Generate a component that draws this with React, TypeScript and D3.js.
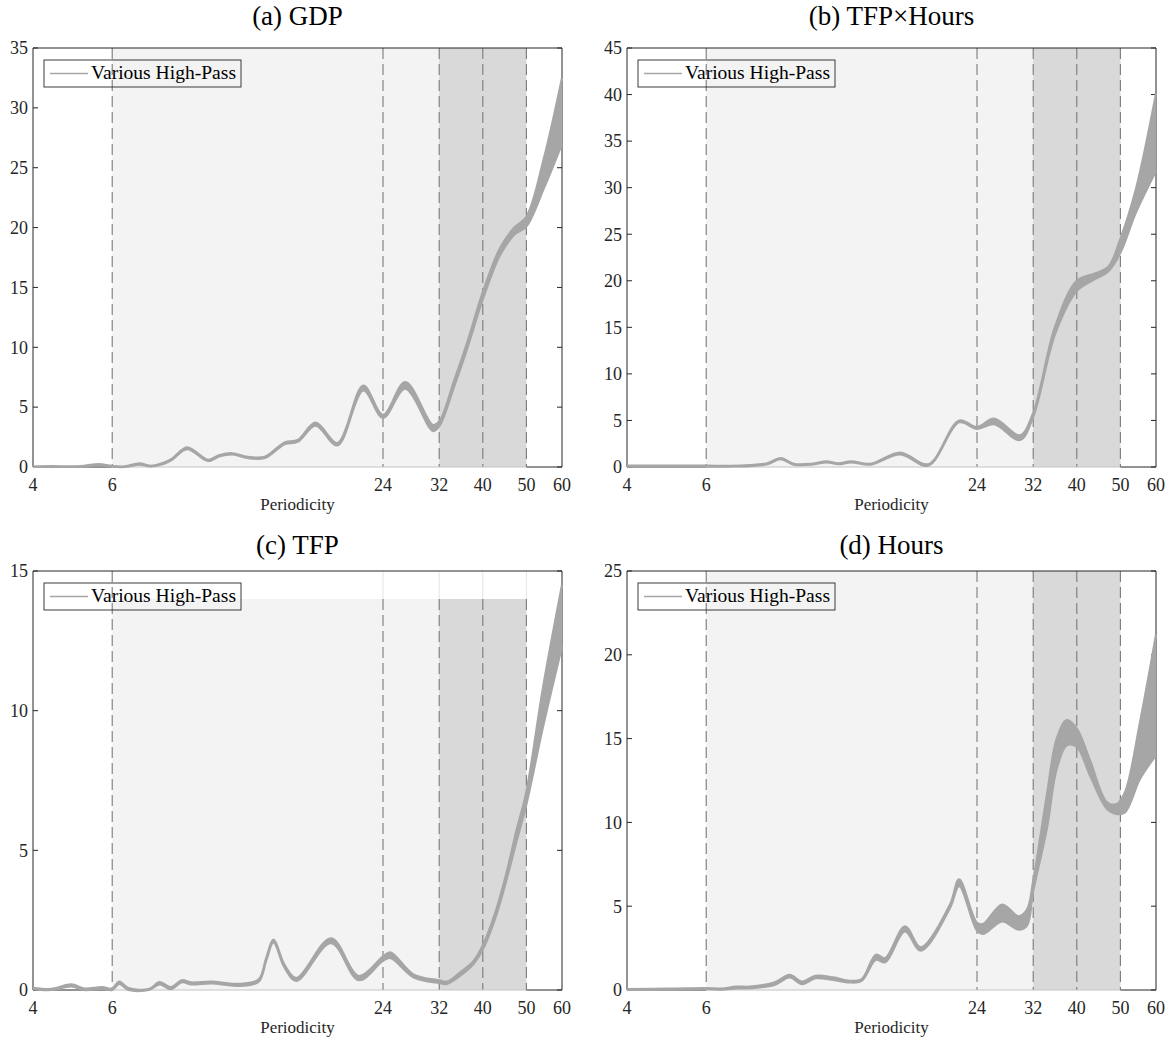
import { useEffect, useRef } from 'react';
import * as d3 from 'd3';

// periodicity grid and band (low / high over the various high-pass filters) per panel
const gdpPeriod = [4, 4.4, 4.8, 5.2, 5.6, 6, 6.4, 6.9, 7.3, 7.8, 8.15, 8.8, 9.8, 10.4, 11.1, 12, 13.1, 14.5, 15.5, 17, 19, 21.7, 24, 26.9, 31, 32, 34.6, 37, 40, 43.7, 47, 50, 54.7, 60];
const gdpLow = [0, 0.02, 0, 0.03, 0.15, 0.02, 0, 0.2, 0.05, 0.25, 0.6, 1.5, 0.5, 0.9, 1.05, 0.75, 0.75, 1.9, 2.1, 3.45, 1.8, 6.4, 4.1, 6.55, 3.0, 3.4, 6.8, 10.0, 14.0, 17.7, 19.4, 20.1, 23.3, 27.0];
const gdpHigh = [0.05, 0.08, 0.05, 0.1, 0.25, 0.08, 0.05, 0.3, 0.1, 0.35, 0.7, 1.65, 0.6, 1.0, 1.15, 0.85, 0.85, 2.05, 2.25, 3.7, 2.0, 6.8, 4.35, 7.1, 3.5, 3.8, 7.3, 10.5, 14.6, 18.3, 20.0, 20.9, 25.8, 32.5];

const tfpHoursPeriod = [4, 5, 6, 6.8, 7.5, 8.2, 8.79, 9.39, 10.3, 11.1, 11.8, 12.6, 13.9, 16.2, 18.7, 21.9, 24, 26.2, 29.9, 32, 35.8, 40, 44, 47, 50, 54.1, 60];
const tfpHoursLow = [0.05, 0.05, 0.05, 0.05, 0.1, 0.3, 0.85, 0.25, 0.25, 0.5, 0.3, 0.5, 0.25, 1.35, 0.15, 4.8, 4.1, 4.6, 2.9, 5.4, 14.3, 18.9, 20.2, 21.0, 23.0, 27.3, 31.8];
const tfpHoursHigh = [0.15, 0.15, 0.15, 0.12, 0.2, 0.4, 0.95, 0.35, 0.35, 0.6, 0.4, 0.6, 0.35, 1.55, 0.3, 5.0, 4.3, 5.2, 3.4, 5.8, 15.1, 20.0, 20.8, 21.5, 24.5, 29.8, 40.1];

const tfpPeriod = [4, 4.4, 4.87, 5.2, 5.7, 6, 6.22, 6.52, 7.23, 7.65, 8.1, 8.57, 9.0, 9.96, 11.6, 12.7, 13.2, 13.7, 14.5, 15.4, 18.4, 21.2, 24, 24.9, 28.1, 32, 33.3, 35.9, 38, 40, 42.5, 45, 47.5, 50, 54.4, 60];
const tfpLow = [0.03, 0, 0.13, 0, 0.05, 0, 0.22, 0, 0, 0.2, 0.03, 0.28, 0.2, 0.24, 0.15, 0.3, 1.05, 1.7, 0.8, 0.33, 1.68, 0.35, 1.05, 1.15, 0.45, 0.25, 0.22, 0.55, 0.9, 1.45, 2.5, 3.85, 5.3, 6.65, 9.4, 12.3];
const tfpHigh = [0.08, 0.04, 0.2, 0.05, 0.1, 0.05, 0.3, 0.07, 0.03, 0.28, 0.1, 0.35, 0.27, 0.3, 0.22, 0.38, 1.15, 1.8, 0.9, 0.43, 1.85, 0.5, 1.2, 1.35, 0.55, 0.35, 0.3, 0.68, 1.0, 1.6, 2.7, 4.1, 5.7, 7.1, 10.8, 14.5];

const hoursPeriod = [4, 5, 6, 6.5, 7, 7.5, 8.5, 9.2, 9.8, 10.5, 11.5, 12.5, 13.3, 14.3, 15.0, 16.6, 18.0, 20.9, 21.9, 24, 24.8, 27.3, 29.7, 31, 32, 34.3, 36.1, 38.0, 40, 42.8, 46.7, 49.1, 51.2, 55.3, 60];
const hoursLow = [0, 0.02, 0.05, 0.02, 0.1, 0.1, 0.3, 0.75, 0.35, 0.7, 0.6, 0.45, 0.55, 1.8, 1.65, 3.5, 2.35, 4.9, 6.2, 3.55, 3.35, 4.1, 3.6, 3.85, 5.9, 9.6, 13.2, 14.6, 14.5, 12.8, 10.8, 10.5, 10.6, 12.6, 14.0];
const hoursHigh = [0.05, 0.08, 0.12, 0.08, 0.2, 0.2, 0.45, 0.9, 0.5, 0.85, 0.75, 0.55, 0.65, 2.1, 1.9, 3.8, 2.55, 5.1, 6.6, 4.0, 3.95, 5.1, 4.4, 4.8, 6.5, 11.6, 15.0, 16.1, 15.6, 13.7, 11.2, 11.1, 11.8, 16.0, 21.2];

const xTicks = [4, 6, 24, 32, 40, 50, 60];
const cutoffs = [6, 24, 32, 40, 50];
const legendLabel = 'Various High-Pass';
const xLabel = 'Periodicity';

const FONT = '"Liberation Serif", "Times New Roman", serif';
const BAND = '#a6a6a6';

type PanelDef = {
  title: string; left: number; top: number; titleY: number; yMax: number;
  period: number[]; low: number[]; high: number[]; shadeTop?: number;
};

const panels: PanelDef[] = [
  { title: '(a) GDP', left: 33, top: 48, titleY: 25, yMax: 35, period: gdpPeriod, low: gdpLow, high: gdpHigh },
  { title: '(b) TFP\u00d7Hours', left: 627, top: 48, titleY: 25, yMax: 45, period: tfpHoursPeriod, low: tfpHoursLow, high: tfpHoursHigh },
  { title: '(c) TFP', left: 33, top: 571, titleY: 554, yMax: 15, period: tfpPeriod, low: tfpLow, high: tfpHigh, shadeTop: 14 },
  { title: '(d) Hours', left: 627, top: 571, titleY: 554, yMax: 25, period: hoursPeriod, low: hoursLow, high: hoursHigh },
];

export default function App() {
  const ref = useRef<SVGSVGElement>(null);

  useEffect(() => {
    const svg = d3.select(ref.current);
    svg.selectAll('*').remove();
    const pw = 529, ph = 419;

    panels.forEach(p => {
      const x = d3.scaleLog().domain([4, 60]).range([p.left, p.left + pw]);
      const y = d3.scaleLinear().domain([0, p.yMax]).range([p.top + ph, p.top]);
      const g = svg.append('g');
      const x0 = x(4), x1 = x(60), yb = y(0), yt = y(p.yMax);
      const shadeTop = p.shadeTop ?? p.yMax;

      // title
      g.append('text').attr('x', (x0 + x1) / 2).attr('y', p.titleY)
        .attr('text-anchor', 'middle').attr('font-family', FONT).attr('font-size', 27)
        .attr('fill', '#000').text(p.title);

      // shaded frequency bands
      g.append('rect').attr('x', x(6)).attr('width', x(50) - x(6))
        .attr('y', y(shadeTop)).attr('height', yb - y(shadeTop)).attr('fill', '#f3f3f3');
      g.append('rect').attr('x', x(32)).attr('width', x(50) - x(32))
        .attr('y', y(shadeTop)).attr('height', yb - y(shadeTop)).attr('fill', '#d9d9d9');

      // cut-off lines
      cutoffs.forEach(c => {
        const top = c === 6 ? yt : y(shadeTop);
        if (top > yt) {
          g.append('line').attr('x1', x(c)).attr('x2', x(c)).attr('y1', yt).attr('y2', top)
            .attr('stroke', '#e4e4e4').attr('stroke-width', 1);
        }
        g.append('line').attr('x1', x(c)).attr('x2', x(c)).attr('y1', top).attr('y2', yb)
          .attr('stroke', '#7a7a7a').attr('stroke-width', 1.1).attr('stroke-dasharray', '11,5');
      });

      // box
      const ax = g.append('g').attr('stroke', '#262626').attr('stroke-width', 1).attr('fill', 'none');
      ax.append('path').attr('d', `M${x0},${yb}V${yt}H${x1}V${yb}`);
      ax.append('line').attr('x1', x0).attr('x2', x(6)).attr('y1', yb).attr('y2', yb);
      ax.append('line').attr('x1', x(50)).attr('x2', x1).attr('y1', yb).attr('y2', yb);
      g.append('line').attr('x1', x(6)).attr('x2', x(50)).attr('y1', yb).attr('y2', yb)
        .attr('stroke', '#c4c4c4').attr('stroke-width', 1);

      const yTicks = d3.range(0, p.yMax + 0.001, 5);
      yTicks.forEach(t => {
        ax.append('line').attr('x1', x0).attr('x2', x0 + 5).attr('y1', y(t)).attr('y2', y(t));
        ax.append('line').attr('x1', x1 - 5).attr('x2', x1).attr('y1', y(t)).attr('y2', y(t));
        g.append('text').attr('x', x0 - 5).attr('y', y(t)).attr('dy', '0.35em')
          .attr('text-anchor', 'end').attr('font-family', FONT).attr('font-size', 18)
          .attr('fill', '#262626').text(t);
      });
      xTicks.forEach(t => {
        g.append('text').attr('x', x(t)).attr('y', yb + 24)
          .attr('text-anchor', 'middle').attr('font-family', FONT).attr('font-size', 18)
          .attr('fill', '#262626').text(t);
      });
      g.append('text').attr('x', (x0 + x1) / 2).attr('y', yb + 43)
        .attr('text-anchor', 'middle').attr('font-family', FONT).attr('font-size', 17)
        .attr('fill', '#262626').text(xLabel);

      // band of spectra
      const data = p.period.map((per, i) => ({ per, lo: p.low[i], hi: p.high[i] }));
      type D = typeof data[number];
      const area = d3.area<D>().x(d => x(d.per)).y0(d => y(d.lo)).y1(d => y(d.hi)).curve(d3.curveCatmullRom);
      const lineLo = d3.line<D>().x(d => x(d.per)).y(d => y(d.lo)).curve(d3.curveCatmullRom);
      const lineHi = d3.line<D>().x(d => x(d.per)).y(d => y(d.hi)).curve(d3.curveCatmullRom);
      g.append('path').datum(data).attr('d', area).attr('fill', BAND);
      [lineLo, lineHi].forEach(l => {
        g.append('path').datum(data).attr('d', l).attr('fill', 'none')
          .attr('stroke', BAND).attr('stroke-width', 2.2).attr('stroke-linejoin', 'round');
      });

      // legend
      const lx = x0 + 11, ly = yt + 12;
      g.append('rect').attr('x', lx).attr('y', ly).attr('width', 197).attr('height', 27)
        .attr('fill', 'none').attr('stroke', '#262626').attr('stroke-width', 0.9);
      g.append('line').attr('x1', lx + 6).attr('x2', lx + 44).attr('y1', ly + 13.5).attr('y2', ly + 13.5)
        .attr('stroke', BAND).attr('stroke-width', 1.3);
      g.append('text').attr('x', lx + 47).attr('y', ly + 19).attr('font-family', FONT)
        .attr('font-size', 18).attr('textLength', 145).attr('lengthAdjust', 'spacingAndGlyphs')
        .attr('fill', '#000').text(legendLabel);
    });
  }, []);

  return (
    <div style={{ position: 'absolute', left: 0, top: 0 }}>
      <svg ref={ref} width={1169} height={1045} style={{ display: 'block', background: '#fff' }} />
    </div>
  );
}
